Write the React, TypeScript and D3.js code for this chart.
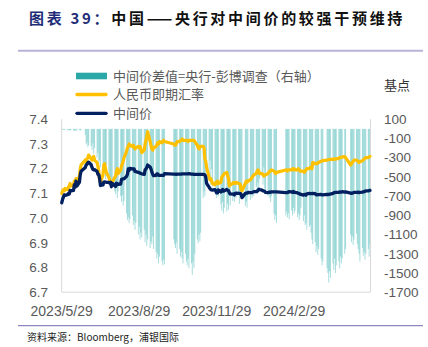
import React from "react";
import * as d3 from "d3";

// ---- categories: trading days per month ----
const months = ["2023-05","2023-06","2023-07","2023-08","2023-09","2023-10","2023-11","2023-12","2024-01","2024-02","2024-03","2024-04","2024-05"];
const tradingDays = [
  [29,30,31],
  [1,2,5,6,7,8,9,12,13,14,15,16,19,20,21,26,27,28,29,30],
  [3,4,5,6,7,10,11,12,13,14,17,18,19,20,21,24,25,26,27,28,31],
  [1,2,3,4,7,8,9,10,11,14,15,16,17,18,21,22,23,24,25,28,29,30,31],
  [1,4,5,6,7,8,11,12,13,14,15,18,19,20,21,22,25,26,27,28],
  [9,10,11,12,13,16,17,18,19,20,23,24,25,26,27,30,31],
  [1,2,3,6,7,8,9,10,13,14,15,16,17,20,21,22,23,24,27,28,29,30],
  [1,4,5,6,7,8,11,12,13,14,15,18,19,20,21,22,25,26,27,28,29],
  [2,3,4,5,8,9,10,11,12,15,16,17,18,19,22,23,24,25,26,29,30,31],
  [1,2,5,6,7,8,19,20,21,22,23,26,27,28,29],
  [1,4,5,6,7,8,11,12,13,14,15,18,19,20,21,22,25,26,27,28,29],
  [1,2,3,8,9,10,11,12,15,16,17,18,19,22,23,24,25,26,29,30],
  [6,7,8,9,10,13,14,15,16,17,20,21,22,23,24,27,28,29],
];

// ---- series: 中间价 (fixing) ----
const fixing = [
  [7.062,7.075,7.085],
  [7.094,7.092,7.095,7.100,7.098,7.112,7.110,7.112,7.135,7.125,7.150,7.130,7.145,7.175,7.190,7.205,7.215,7.218,7.224,7.226],
  [7.216,7.205,7.197,7.195,7.196,7.189,7.177,7.176,7.160,7.132,7.134,7.146,7.147,7.146,7.145,7.145,7.141,7.145,7.127,7.141,7.131],
  [7.128,7.141,7.139,7.137,7.138,7.157,7.159,7.159,7.159,7.169,7.177,7.199,7.193,7.201,7.199,7.198,7.199,7.189,7.188,7.185,7.185,7.182,7.181],
  [7.179,7.177,7.195,7.199,7.205,7.215,7.207,7.199,7.187,7.178,7.172,7.173,7.179,7.179,7.173,7.173,7.173,7.173,7.173,7.180],
  [7.178,7.178,7.178,7.177,7.178,7.178,7.178,7.178,7.179,7.179,7.179,7.179,7.179,7.179,7.180,7.178,7.178],
  [7.178,7.177,7.177,7.177,7.177,7.177,7.177,7.177,7.177,7.177,7.175,7.166,7.141,7.125,7.120,7.115,7.114,7.113,7.115,7.109,7.102,7.102],
  [7.114,7.106,7.113,7.116,7.109,7.110,7.116,7.112,7.111,7.102,7.098,7.097,7.098,7.094,7.100,7.101,7.100,7.100,7.100,7.096,7.083],
  [7.100,7.101,7.101,7.104,7.103,7.103,7.103,7.105,7.107,7.107,7.108,7.112,7.117,7.115,7.113,7.110,7.110,7.108,7.104,7.103,7.105,7.104],
  [7.105,7.106,7.106,7.106,7.106,7.106,7.103,7.103,7.103,7.106,7.107,7.106,7.104,7.108,7.104],
  [7.104,7.102,7.100,7.100,7.097,7.096,7.093,7.095,7.096,7.093,7.098,7.100,7.099,7.099,7.099,7.100,7.099,7.095,7.094,7.095,7.095],
  [7.096,7.094,7.094,7.096,7.095,7.096,7.097,7.097,7.100,7.103,7.103,7.104,7.104,7.104,7.106,7.105,7.105,7.107,7.105,7.106],
  [7.101,7.100,7.101,7.102,7.104,7.104,7.104,7.105,7.103,7.104,7.105,7.106,7.107,7.108,7.110,7.110,7.111,7.112],
];

// ---- series: 人民币即期汇率 (spot) ----
const spot = [
  [7.100,7.110,7.115],
  [7.110,7.120,7.115,7.125,7.130,7.140,7.130,7.135,7.150,7.140,7.160,7.140,7.170,7.200,7.215,7.235,7.225,7.240,7.245,7.255],
  [7.240,7.235,7.245,7.250,7.235,7.225,7.210,7.190,7.155,7.145,7.175,7.215,7.220,7.200,7.185,7.165,7.155,7.150,7.140,7.145,7.165],
  [7.170,7.190,7.200,7.180,7.195,7.210,7.220,7.230,7.245,7.270,7.285,7.290,7.300,7.295,7.290,7.295,7.285,7.280,7.285,7.290,7.285,7.290,7.280],
  [7.265,7.275,7.300,7.315,7.330,7.350,7.310,7.295,7.280,7.275,7.285,7.290,7.295,7.305,7.300,7.310,7.305,7.310,7.315,7.310],
  [7.300,7.295,7.295,7.300,7.310,7.310,7.315,7.315,7.320,7.315,7.315,7.315,7.315,7.310,7.315,7.315,7.315],
  [7.315,7.315,7.310,7.295,7.285,7.280,7.290,7.290,7.290,7.285,7.240,7.230,7.205,7.165,7.155,7.160,7.150,7.140,7.135,7.145,7.140,7.150],
  [7.140,7.145,7.165,7.170,7.175,7.180,7.185,7.170,7.160,7.130,7.135,7.140,7.145,7.145,7.140,7.145,7.140,7.140,7.135,7.115,7.110],
  [7.140,7.150,7.145,7.150,7.155,7.160,7.165,7.170,7.175,7.180,7.190,7.195,7.190,7.180,7.180,7.175,7.170,7.175,7.175,7.180,7.185,7.190],
  [7.190,7.195,7.190,7.185,7.180,7.185,7.195,7.195,7.190,7.195,7.195,7.195,7.200,7.195,7.200],
  [7.195,7.195,7.200,7.195,7.190,7.190,7.190,7.185,7.190,7.195,7.200,7.200,7.205,7.205,7.200,7.225,7.220,7.220,7.220,7.225,7.225],
  [7.230,7.232,7.233,7.235,7.235,7.236,7.238,7.238,7.238,7.240,7.238,7.240,7.240,7.242,7.245,7.246,7.246,7.248,7.249,7.245],
  [7.215,7.220,7.225,7.230,7.235,7.235,7.232,7.230,7.225,7.228,7.232,7.235,7.240,7.242,7.245,7.245,7.248,7.250],
];

// ---- series: 中间价差值=央行-彭博调查 (bps, right axis) ----
const fixingGap = [
  [-5,-10,-8],
  [-10,-5,-15,-8,-12,-20,-10,-15,-25,-10,-20,-15,-10,-18,-12,-60,-160,-140,-190,-170],
  [-180,-220,-150,-260,-200,-300,-250,-380,-330,-400,-360,-450,-420,-520,-380,-480,-560,-500,-620,-580,-650],
  [-680,-600,-720,-650,-700,-760,-690,-800,-750,-880,-950,-920,-980,-940,-900,-1000,-960,-1050,-980,-1100,-1020,-1150,-1080],
  [-1130,-1050,-1180,-1100,-1220,-1150,-1240,-1170,-1200,-1120,-1250,-1280,-1350,-1300,-1400,-1330,-1380,-1420,-1360,-1410],
  [-1150,-1200,-1240,-1180,-1300,-1250,-1330,-1280,-1350,-1400,-1300,-1380,-1420,-1350,-1450,-1400,-1520],
  [-1380,-1450,-1300,-1150,-1190,-1100,-1170,-1080,-720,-650,-700,-450,-380,-520,-330,-580,-420,-600,-560,-680,-720,-650],
  [-700,-780,-850,-760,-880,-820,-860,-780,-840,-700,-800,-750,-680,-760,-640,-720,-690,-780,-650,-700,-620],
  [-800,-760,-820,-700,-740,-680,-720,-650,-700,-600,-680,-560,-620,-520,-450,-580,-400,-620,-680,-700,-650,-720],
  [-760,-700,-880,-950,-900,-980,-900,-860,-920,-880,-940,-850,-900,-820,-880],
  [-850,-920,-880,-950,-900,-820,-960,-900,-1000,-980,-1050,-1020,-1000,-1080,-1150,-1200,-1180,-1280,-1220,-1310,-1250],
  [-1350,-1420,-1380,-1450,-1500,-1600,-1480,-1550,-1400,-1470,-1350,-1500,-1420,-1380,-1450,-1330,-1400,-1350,-1300,-1250],
  [-1100,-1180,-1120,-1210,-1150,-1090,-1200,-1250,-1300,-1380,-1240,-1320,-1280,-1360,-1300,-1250,-1330,-1200],
];

// ---- axis ticks ----
const xTickLabels = ["2023/5/29", "2023/8/29", "2023/11/29", "2024/2/29"];
const leftTicks = [6.7, 6.8, 6.9, 7.0, 7.1, 7.2, 7.3, 7.4];
const rightTicks = [100, -100, -300, -500, -700, -900, -1100, -1300, -1500, -1700];

const legendLabels = ["中间价差值=央行-彭博调查（右轴）", "人民币即期汇率", "中间价"];

type Row = { date: Date; fix: number; spot: number; gap: number };

function buildRows(): Row[] {
  const rows: Row[] = [];
  months.forEach((m, mi) => {
    const [yy, mm] = m.split("-").map(Number);
    tradingDays[mi].forEach((d, di) => {
      rows.push({
        date: new Date(yy, mm - 1, d),
        fix: fixing[mi][di],
        spot: spot[mi][di],
        gap: fixingGap[mi][di],
      });
    });
  });
  return rows;
}

const parseLabel = (s: string) => {
  const [y, m, d] = s.split("/").map(Number);
  return new Date(y, m - 1, d);
};

export default function App() {
  const rows = buildRows();
  const left = 61.7, right = 370.5, top = 119.3, bottom = 292.2;

  const x = d3.scaleTime().domain([new Date(2023, 4, 29), new Date(2024, 4, 29)]).range([left, right - 0.5]);
  const yL = d3.scaleLinear().domain([6.7, 7.4]).range([bottom, top]);
  const yR = d3.scaleLinear().domain([-1700, 100]).range([bottom, top]);

  const lineSpot = d3.line<Row>().x((r) => x(r.date)).y((r) => yL(r.spot));
  const lineFix = d3.line<Row>().x((r) => x(r.date)).y((r) => yL(r.fix));

  const numFont = "'Liberation Sans', Arial, sans-serif";
  const cjkFont = "'Noto Sans CJK SC', 'Noto Sans', sans-serif";
  const gray = "#595959";

  return (
    <svg width={428} height={347} style={{ position: "absolute", left: 0, top: 0, background: "#fff" }}>
      {/* Title */}
      <text x={29} y={24} fontFamily={cjkFont} fontWeight="bold" fontSize={15} letterSpacing={2.7}>
        <tspan fill="#1f2d78">图表 39：</tspan>
        <tspan fill="#111">中国——央行对中间价的较强干预维持</tspan>
      </text>
      <line x1={18} x2={423} y1={50.7} y2={50.7} stroke="#b7b3d6" strokeWidth={2} />

      {/* Legend */}
      <rect x={76} y={72.7} width={31} height={6.6} fill="#2aa7a7" />
      <text x={113} y={80.5} fontFamily={cjkFont} fontSize={13} fill={gray}>{legendLabels[0]}</text>
      <line x1={77} x2={106} y1={94.5} y2={94.5} stroke="#FFC000" strokeWidth={3.3} strokeLinecap="round" />
      <text x={113} y={99} fontFamily={cjkFont} fontSize={13} fill={gray}>{legendLabels[1]}</text>
      <line x1={77} x2={106} y1={113.3} y2={113.3} stroke="#002060" strokeWidth={3.3} strokeLinecap="round" />
      <text x={113} y={117.8} fontFamily={cjkFont} fontSize={13} fill={gray}>{legendLabels[2]}</text>
      <text x={384} y={90} fontFamily={cjkFont} fontSize={13} fill="#333">基点</text>

      {/* Bars */}
      <g fill="#3fb4b4" fillOpacity={0.45}>
        {rows.map((r, i) => (
          <rect key={i} x={x(r.date) - 0.5} width={1.0} y={yR(0)} height={Math.max(0.6, yR(r.gap) - yR(0))} />
        ))}
      </g>

      {/* Frame */}
      <line x1={left} x2={left} y1={top} y2={bottom} stroke="#d9d9d9" strokeWidth={1} />
      <line x1={right} x2={right} y1={top} y2={bottom} stroke="#d9d9d9" strokeWidth={1} />
      <line x1={left} x2={right} y1={bottom} y2={bottom} stroke="#d9d9d9" strokeWidth={1} />

      {/* Lines */}
      <path d={lineSpot(rows) || ""} fill="none" stroke="#FFC000" strokeWidth={3.2} strokeLinejoin="round" strokeLinecap="round" />
      <path d={lineFix(rows) || ""} fill="none" stroke="#002060" strokeWidth={3.3} strokeLinejoin="round" strokeLinecap="round" />

      {/* Left axis labels */}
      {leftTicks.map((t) => (
        <text key={t} x={48} y={yL(t)} dy="0.35em" textAnchor="end" fontFamily={numFont} fontSize={13.5} fill={gray}>
          {t.toFixed(1)}
        </text>
      ))}
      {/* Right axis labels */}
      {rightTicks.map((t) => (
        <text key={t} x={384} y={yR(t)} dy="0.35em" textAnchor="start" fontFamily={numFont} fontSize={13.5} fill={gray}>
          {t}
        </text>
      ))}
      {/* X axis labels */}
      {xTickLabels.map((s) => (
        <text key={s} x={x(parseLabel(s))} y={311.5} dy="0.35em" textAnchor="middle" fontFamily={numFont} fontSize={14} fill={gray}>
          {s}
        </text>
      ))}

      {/* Footer */}
      <line x1={18} x2={423} y1={325.7} y2={325.7} stroke="#8d88bf" strokeWidth={1.3} />
      <text x={27} y={341} fontFamily={cjkFont} fontSize={10} fill="#222">资料来源：Bloomberg，浦银国际</text>
    </svg>
  );
}
